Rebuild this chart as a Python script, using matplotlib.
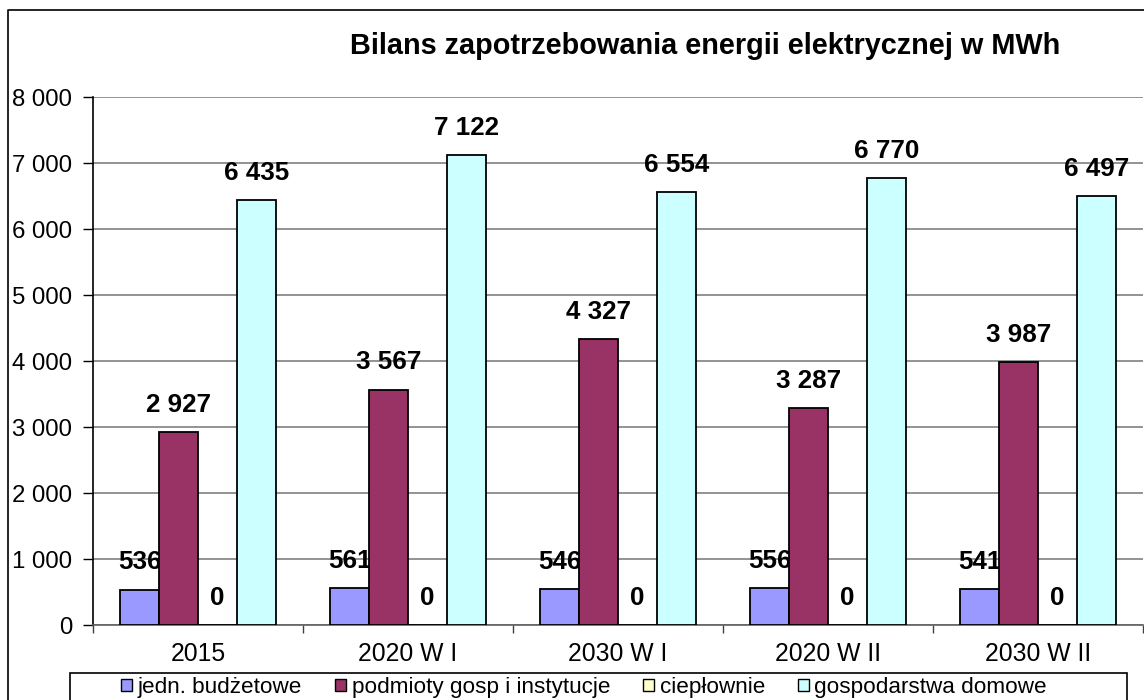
import numpy as np
import matplotlib
matplotlib.use("Agg")
import matplotlib.pyplot as plt
from matplotlib.lines import Line2D
from matplotlib.patches import Patch, Rectangle

plt.rcParams['font.family'] = ['Liberation Sans', 'DejaVu Sans']

# data
categories = ["2015", "2020 W I", "2030 W I", "2020 W II", "2030 W II"]
series_names = ["jedn. budżetowe", "podmioty gosp i instytucje", "ciepłownie", "gospodarstwa domowe"]
budzetowe = [536, 561, 546, 556, 541]
podmioty = [2927, 3567, 4327, 3287, 3987]
cieplownie = [0, 0, 0, 0, 0]
gospodarstwa = [6435, 7122, 6554, 6770, 6497]
colors = ["#9999FF", "#993366", "#FFFFCC", "#CCFFFF"]
yticks = [0, 1000, 2000, 3000, 4000, 5000, 6000, 7000, 8000]

W, H = 1144, 700
fig = plt.figure(figsize=(W / 100, H / 100), dpi=100)
ax = fig.add_axes([93 / W, 1 - 625 / H, 1050 / W, 528 / H])

# outer chart frame (cut off at the right and bottom like the original)
fig.add_artist(Line2D([8 / W, 8 / W, 1], [0, 1 - 10 / H, 1 - 10 / H],
                      transform=fig.transFigure, color="black", lw=1.2))

x = np.arange(len(categories))
bw = 0.185
all_series = [budzetowe, podmioty, cieplownie, gospodarstwa]
for i, vals in enumerate(all_series):
    pos = x + (i - 1.5) * bw
    ax.bar(pos, vals, width=bw, color=colors[i], edgecolor="black", lw=1.3, zorder=3)
    for p, v in zip(pos, vals):
        lbl = f"{v:,}".replace(",", " ")
        ax.annotate(lbl, (p, v), xytext=(0, 11), textcoords="offset points",
                    ha="center", va="bottom", fontsize=18.7, fontweight="bold", zorder=2.5)

ax.set_xlim(-0.5, len(categories) - 0.5)
ax.set_ylim(0, 8000)
ax.set_yticks(yticks)
ax.set_yticklabels([f"{t:,}".replace(",", " ") for t in yticks], fontsize=17.3)
ax.yaxis.grid(True, color="#808080", lw=1.2, zorder=1)
ax.set_axisbelow(True)

ax.set_xticks(x)
ax.set_xticklabels(categories, fontsize=17.8)
ax.set_xticks(np.arange(-0.5, len(categories), 1.0), minor=True)
ax.tick_params(axis="x", which="major", length=0, pad=12)
ax.tick_params(axis="x", which="minor", length=6, width=1, color="#404040")
ax.tick_params(axis="y", length=7, width=1, pad=8)

for s in ["top", "right"]:
    ax.spines[s].set_visible(False)
ax.spines["left"].set_color("black")
ax.spines["left"].set_linewidth(1.2)
ax.spines["bottom"].set_color("#606060")
ax.spines["bottom"].set_linewidth(1.2)

fig.text(705 / W, 1 - 46 / H, "Bilans zapotrzebowania energii elektrycznej w MWh",
         ha="center", va="center", fontsize=20.8, fontweight="bold")

# legend box, cut at the bottom edge
fig.add_artist(Rectangle((70 / W, -0.02), 1057 / W, 0.02 + 1 - 673 / H,
                         transform=fig.transFigure, facecolor="white",
                         edgecolor="black", lw=1.2))
handles = [Patch(facecolor=c, edgecolor="black", lw=1) for c in colors]
leg = fig.legend(handles, series_names, loc="upper center", ncol=4,
                 bbox_to_anchor=(584 / W, 1 - 677 / H),
                 fontsize=16.2, frameon=False, handlelength=0.5,
                 handleheight=0.5, handletextpad=0.25, borderpad=0.0, columnspacing=1.45,
                 borderaxespad=0)

fig.savefig("out.png", dpi=100)
